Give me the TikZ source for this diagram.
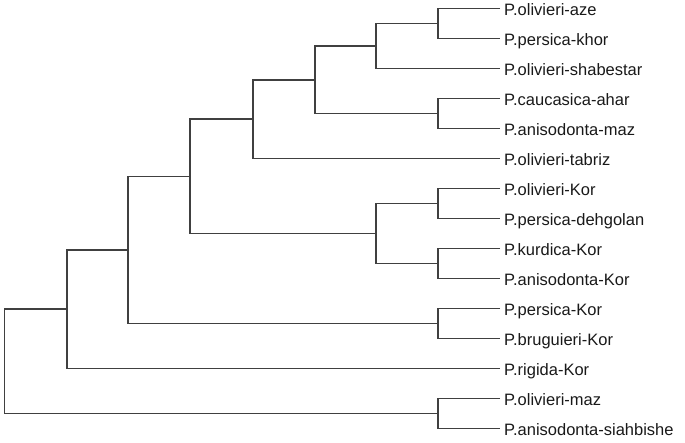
\documentclass[tikz,border=0pt]{standalone}
\usepackage{fontspec}
\setmainfont{Liberation Sans}
\begin{document}
\begin{tikzpicture}[x=1pt,y=-1pt,
  branch/.style={draw=black!75, line width=1.6pt, line join=miter},
  lab/.style={anchor=base west, inner sep=0pt, font=\fontsize{16.5}{18}\selectfont, text=black!90}]
\useasboundingbox (0,0) rectangle (685,442);
% leaf tips
\foreach \i/\t in {1/P.olivieri-aze,2/P.persica-khor,3/P.olivieri-shabestar,4/P.caucasica-ahar,5/P.anisodonta-maz,6/P.olivieri-tabriz,7/P.olivieri-Kor,8/P.persica-dehgolan,9/P.kurdica-Kor,10/P.anisodonta-Kor,11/P.persica-Kor,12/P.bruguieri-Kor,13/P.rigida-Kor,14/P.olivieri-maz,15/P.anisodonta-siahbishe}{
  \coordinate (t\i) at (500,{8.5+30*(\i-1)});
  \node[lab] (n\i) at ([xshift=4pt,yshift=-6.5pt]t\i) {\t};
}
% internal nodes
\coordinate (a12) at (438,23.5);
\coordinate (a123) at (376,46);
\coordinate (a45) at (438,113.5);
\coordinate (a15) at (315,79.75);
\coordinate (a16) at (253,119.1);
\coordinate (a78) at (438,203.5);
\coordinate (a910) at (438,263.5);
\coordinate (a710) at (376,233.5);
\coordinate (a110) at (190,176.3);
\coordinate (a1112) at (438,323.5);
\coordinate (a112) at (128,249.9);
\coordinate (a113) at (67,309.2);
\coordinate (a1415) at (438,413.5);
\coordinate (root) at (4.5,361.35);
% elbows: child1 -> parent x -> child2
\foreach \c/\d/\p in {t1/t2/a12, a12/t3/a123, t4/t5/a45, a123/a45/a15, a15/t6/a16,
  t7/t8/a78, t9/t10/a910, a78/a910/a710, a16/a710/a110, t11/t12/a1112,
  a110/a1112/a112, a112/t13/a113, t14/t15/a1415, a113/a1415/root}{
  \draw[branch] (\c) -- (\c -| \p) -- (\d -| \p) -- (\d);
}
\end{tikzpicture}
\end{document}
